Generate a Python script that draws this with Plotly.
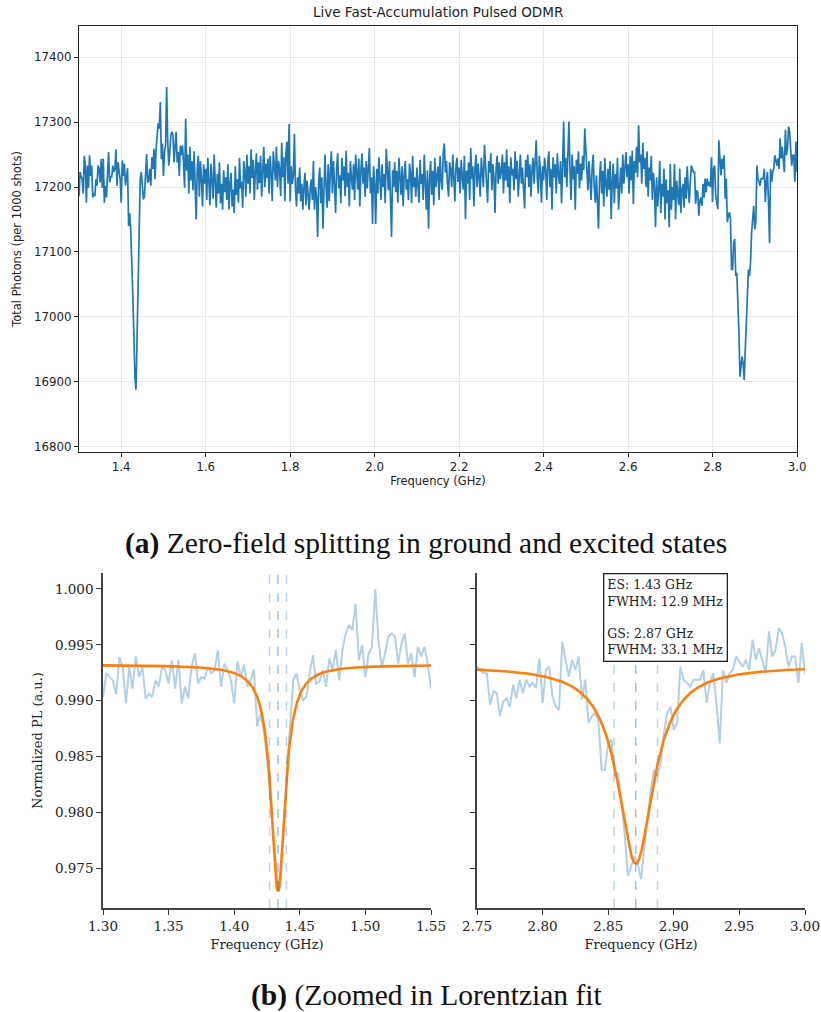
import numpy as np
import plotly.graph_objects as go

# ---------------------------------------------------------------------------
# Sweep grid: 1.30 GHz -> 3.00 GHz in 2.5 MHz steps
# ---------------------------------------------------------------------------
FREQ_START_GHZ = 1.30
FREQ_STEP_GHZ = 0.0025

# Total photon counts (per 1000 shots), excited-state region 1.3000-1.5500 GHz
counts_es = [
    17186, 17223, 17217, 17212, 17190, 17248, 17233, 17176, 17233, 17199,
    17249, 17217, 17233, 17184, 17191, 17186, 17212, 17202, 17233, 17228,
    17207, 17243, 17199, 17244, 17176, 17202, 17184, 17233, 17254, 17207,
    17217, 17215, 17233, 17223, 17228, 17258, 17202, 17238, 17228, 17212,
    17176, 17241, 17217, 17236, 17202, 17212, 17229, 17140, 17160, 17134,
    17093, 17031, 16969, 16906, 16888, 16979, 17062, 17140, 17212, 17223,
    17197, 17181, 17186, 17223, 17251, 17207, 17210, 17228, 17202, 17246,
    17228, 17259, 17212, 17259, 17285, 17298, 17290, 17331, 17243, 17267,
    17217, 17254, 17264, 17354, 17272, 17233, 17254, 17280, 17285, 17280,
    17238, 17269, 17285, 17238, 17254, 17217, 17264, 17249, 17264, 17238,
    17199,
]

# Total photon counts, 1.5525-2.7475 GHz
counts_mid = [
    17305, 17225, 17250, 17190, 17262, 17210, 17240, 17195, 17255,
    17205, 17150, 17230, 17248, 17185, 17240, 17212, 17170, 17235, 17205,
    17228, 17180, 17245, 17196, 17172, 17236, 17210, 17182, 17250, 17195,
    17168, 17220, 17190, 17238, 17175, 17205, 17165, 17226, 17192, 17215,
    17180, 17235, 17165, 17205, 17222, 17170, 17196, 17160, 17232, 17188,
    17212, 17176, 17245, 17198, 17208, 17168, 17240, 17226, 17185, 17250,
    17205, 17232, 17190, 17258, 17214, 17242, 17180, 17225, 17252, 17196,
    17238, 17206, 17248, 17185, 17230, 17262, 17200, 17236, 17214, 17244,
    17190, 17248, 17222, 17178, 17255, 17232, 17210, 17262, 17200, 17240,
    17228, 17186, 17268, 17215, 17246, 17178, 17252, 17270, 17205, 17297,
    17178, 17232, 17205, 17218, 17282, 17198, 17170, 17215, 17190, 17230,
    17178, 17205, 17165, 17200, 17222, 17172, 17210, 17188, 17165, 17198,
    17212, 17180, 17240, 17165, 17200, 17185, 17123, 17210, 17230, 17175,
    17215, 17136, 17190, 17250, 17200, 17168, 17235, 17178, 17222, 17255,
    17190, 17240, 17205, 17160, 17228, 17252, 17198, 17218, 17175, 17245,
    17210, 17232, 17186, 17256, 17200, 17222, 17170, 17240, 17215, 17196,
    17235, 17180, 17250, 17212, 17196, 17244, 17170, 17226, 17252, 17205,
    17230, 17185, 17240, 17198, 17222, 17260, 17190, 17215, 17143, 17232,
    17205, 17143, 17228, 17190, 17246, 17210, 17180, 17235, 17200, 17220,
    17175, 17259, 17212, 17195, 17240, 17185, 17123, 17226, 17200, 17238,
    17192, 17225, 17176, 17245, 17205, 17188, 17232, 17170, 17218, 17240,
    17196, 17212, 17180, 17236, 17222, 17175, 17248, 17200, 17215, 17185,
    17230, 17198, 17176, 17242, 17205, 17220, 17180, 17250, 17195, 17165,
    17226, 17136, 17210, 17240, 17188, 17225, 17172, 17245, 17200, 17218,
    17232, 17180, 17248, 17210, 17196, 17255, 17267, 17222, 17240, 17205,
    17185, 17238, 17226, 17200, 17250, 17215, 17178, 17232, 17245, 17208,
    17230, 17190, 17242, 17215, 17196, 17248, 17151, 17225, 17205, 17238,
    17180, 17260, 17212, 17232, 17170, 17226, 17250, 17200, 17236, 17215,
    17185, 17245, 17220, 17200, 17265, 17230, 17210, 17176, 17240, 17222,
    17252, 17195, 17235, 17215, 17160, 17228, 17248, 17205, 17238, 17212,
    17225, 17250, 17190, 17238, 17210, 17258, 17200, 17232, 17175, 17246,
    17218, 17228, 17195, 17255, 17212, 17240, 17185, 17226, 17250, 17205,
    17230, 17196, 17167, 17242, 17215, 17250, 17200, 17235, 17185, 17226,
    17245, 17205, 17238, 17272, 17214, 17190, 17248, 17222, 17176, 17232,
    17210, 17245, 17225, 17180, 17238, 17255, 17200, 17228, 17165, 17246,
    17215, 17235, 17190, 17252, 17220, 17205, 17240, 17175, 17230, 17301,
    17215, 17245, 17200, 17238, 17301, 17225, 17180, 17250, 17212, 17232,
    17165, 17242, 17220, 17255, 17198, 17236, 17210, 17248, 17226, 17290,
    17262, 17225, 17195, 17240, 17205, 17180, 17230, 17250, 17200, 17176,
    17218, 17160, 17136, 17215, 17240, 17190, 17225, 17170, 17245, 17205,
    17185, 17228, 17196, 17240, 17151, 17210, 17236, 17175, 17220, 17198,
    17245, 17165, 17212, 17230, 17190, 17250, 17205, 17225, 17254, 17215,
    17235, 17190, 17248, 17210, 17256, 17174, 17240, 17222, 17262, 17215,
    17295, 17238, 17250, 17205, 17268, 17228, 17245, 17200, 17255, 17185,
    17230, 17210, 17248, 17180, 17222, 17200, 17138, 17215, 17170, 17196,
    17240, 17160, 17205, 17185, 17228, 17150, 17212, 17175, 17195, 17138,
    17236, 17165, 17200, 17180, 17236, 17150, 17210, 17190, 17172, 17228,
    17160, 17195, 17205, 17168, 17215, 17182, 17232, 17198, 17175, 17210,
]

# Total photon counts, ground-state region 2.7500-3.0000 GHz
counts_gs = [
    17233, 17228, 17223, 17223, 17174, 17195, 17192, 17156, 17179, 17184,
    17171, 17205, 17184, 17213, 17192, 17213, 17202, 17208, 17200, 17246,
    17177, 17228, 17233, 17187, 17171, 17166, 17272, 17244, 17218, 17244,
    17228, 17249, 17182, 17213, 17146, 17156, 17161, 17151, 17073, 17073,
    17114, 17120, 17063, 17068, 17027, 16975, 16908, 16923, 16939, 16928,
    16903, 16949, 17001, 17042, 17073, 17063, 17083, 17130, 17161, 17171,
    17135, 17146, 17233, 17213, 17208, 17202, 17213, 17213, 17213, 17228,
    17177, 17208, 17223, 17177, 17114, 17228, 17208, 17223, 17228, 17249,
    17241, 17233, 17244, 17228, 17275, 17244, 17262, 17244, 17223, 17288,
    17249, 17259, 17293, 17285, 17264, 17233, 17249, 17249, 17208, 17270,
    17223,
]

# Lorentzian fit results: [excited state, ground state]
fit_labels = ["ES", "GS"]
fit_center_ghz = [1.4334, 2.8710]
fit_fwhm_mhz = [12.9, 33.1]
fit_depth = [0.0203, 0.0177]
fit_baseline = [0.9932, 0.9931]

zoom_ranges = [(1.30, 1.55), (2.75, 3.00)]

# ---------------------------------------------------------------------------
photons = np.array(counts_es + counts_mid + counts_gs, dtype=float)
freq = FREQ_START_GHZ + FREQ_STEP_GHZ * np.arange(len(photons))
norm_pl = photons / photons.max()

BLUE = "#1f77b4"
ORANGE = "#ff7f0e"
SANS = "DejaVu Sans"
SERIF = "DejaVu Serif"
CAPTION = "Liberation Serif"

W, H = 821, 1012


def xdom(a, b):
    return [a / W, b / W]


def ydom(top, bottom):
    return [1 - bottom / H, 1 - top / H]


def lorentzian(f, f0, fwhm_ghz, depth, base):
    hw = fwhm_ghz / 2.0
    return base - depth / (1.0 + ((f - f0) / hw) ** 2)


fig = go.Figure()

# Top: full sweep
fig.add_trace(go.Scatter(
    x=freq, y=photons, mode="lines",
    line=dict(color=BLUE, width=1.7),
    xaxis="x", yaxis="y", showlegend=False, hoverinfo="skip",
))

# Bottom: zoomed data with Lorentzian fits
axis_ids = [("x2", "y2"), ("x3", "y3")]
for k, (lo, hi) in enumerate(zoom_ranges):
    xa, ya = axis_ids[k]
    sel = (freq >= lo - 1e-9) & (freq <= hi + 1e-9)
    fig.add_trace(go.Scatter(
        x=freq[sel], y=norm_pl[sel], mode="lines",
        line=dict(color="rgba(31,119,180,0.35)", width=2),
        xaxis=xa, yaxis=ya, showlegend=False, hoverinfo="skip",
    ))
    fgrid = np.linspace(lo, hi, 600)
    fwhm_ghz = fit_fwhm_mhz[k] / 1000.0
    fig.add_trace(go.Scatter(
        x=fgrid,
        y=lorentzian(fgrid, fit_center_ghz[k], fwhm_ghz, fit_depth[k], fit_baseline[k]),
        mode="lines", line=dict(color=ORANGE, width=2.6),
        xaxis=xa, yaxis=ya, showlegend=False, hoverinfo="skip",
    ))
    # centre and half-maximum markers
    for off, alpha in [(-0.5, 0.3), (0.0, 0.45), (0.5, 0.3)]:
        xv = fit_center_ghz[k] + off * fwhm_ghz
        fig.add_shape(
            type="line", xref=xa, yref=f"{ya} domain",
            x0=xv, x1=xv, y0=0, y1=1,
            line=dict(color=f"rgba(31,119,180,{alpha})", width=1.5, dash="dash"),
            layer="above",
        )

top_x = xdom(79, 797)
top_y = ydom(26, 452)
bl_x = xdom(103, 431)
br_x = xdom(477, 805)
bot_y = ydom(573, 908)

tick_font_top = dict(family=SANS, size=11.8, color="#222")
tick_font_bot = dict(family=SERIF, size=13.5, color="#222")

fig.update_layout(
    template="none",
    width=W, height=H,
    margin=dict(l=0, r=0, t=0, b=0, autoexpand=False),
    paper_bgcolor="white", plot_bgcolor="white",
    xaxis=dict(
        domain=top_x, anchor="y", range=[1.3, 3.0], automargin=False,
        tickvals=[1.4, 1.6, 1.8, 2.0, 2.2, 2.4, 2.6, 2.8, 3.0],
        tickformat=".1f", ticks="outside", ticklen=4, tickcolor="#222",
        showgrid=True, gridcolor="#e8e8e8", gridwidth=1,
        showline=True, mirror=True, linecolor="#222", linewidth=1.2,
        zeroline=False, tickfont=tick_font_top,
        title=dict(text="Frequency (GHz)", font=dict(family=SANS, size=11.5, color="#222"), standoff=3),
    ),
    yaxis=dict(
        domain=top_y, anchor="x", range=[16792, 17448], automargin=False,
        tickvals=[16800, 16900, 17000, 17100, 17200, 17300, 17400],
        tickformat="d", ticks="outside", ticklen=4, tickcolor="#222",
        showgrid=True, gridcolor="#e8e8e8", gridwidth=1,
        showline=True, mirror=True, linecolor="#222", linewidth=1.2,
        zeroline=False, tickfont=tick_font_top,
        title=dict(text="Total Photons (per 1000 shots)", font=dict(family=SANS, size=11.5, color="#222"), standoff=9),
    ),
    xaxis2=dict(
        domain=bl_x, anchor="y2", range=[1.30, 1.55], automargin=False,
        tickvals=[1.30, 1.35, 1.40, 1.45, 1.50, 1.55], tickformat=".2f",
        ticks="outside", ticklen=5, tickcolor="#333", showgrid=False,
        showline=True, linecolor="#444", linewidth=1.5, zeroline=False,
        tickfont=tick_font_bot,
        title=dict(text="Frequency (GHz)", font=dict(family=SERIF, size=13, color="#222"), standoff=7),
    ),
    yaxis2=dict(
        domain=bot_y, anchor="x2", range=[0.97142, 1.00143], automargin=False,
        tickvals=[0.975, 0.980, 0.985, 0.990, 0.995, 1.000], tickformat=".3f",
        ticks="outside", ticklen=5, tickcolor="#333", showgrid=False,
        showline=True, linecolor="#444", linewidth=1.5, zeroline=False,
        tickfont=tick_font_bot,
        title=dict(text="Normalized PL (a.u.)", font=dict(family=SERIF, size=13, color="#222"), standoff=9),
    ),
    xaxis3=dict(
        domain=br_x, anchor="y3", range=[2.75, 3.00], automargin=False,
        tickvals=[2.75, 2.80, 2.85, 2.90, 2.95, 3.00], tickformat=".2f",
        ticks="outside", ticklen=5, tickcolor="#333", showgrid=False,
        showline=True, linecolor="#444", linewidth=1.5, zeroline=False,
        tickfont=tick_font_bot,
        title=dict(text="Frequency (GHz)", font=dict(family=SERIF, size=13, color="#222"), standoff=7),
    ),
    yaxis3=dict(
        domain=bot_y, anchor="x3", range=[0.97142, 1.00143], automargin=False,
        tickvals=[0.975, 0.980, 0.985, 0.990, 0.995, 1.000],
        showticklabels=False,
        ticks="outside", ticklen=5, tickcolor="#333", showgrid=False,
        showline=True, linecolor="#444", linewidth=1.5, zeroline=False,
    ),
)

fit_text = "<br><br>".join(
    f"{lab}: {c:.2f} GHz<br>FWHM: {w:.1f} MHz"
    for lab, c, w in zip(fit_labels, fit_center_ghz, fit_fwhm_mhz)
)

annotations = [
    dict(text="Live Fast-Accumulation Pulsed ODMR", xref="paper", yref="paper",
         x=(top_x[0] + top_x[1]) / 2, y=1 - 12 / H, xanchor="center", yanchor="middle",
         showarrow=False, font=dict(family=SANS, size=13.5, color="#222")),
    dict(text="<b>(a)</b> Zero-field splitting in ground and excited states",
         xref="paper", yref="paper", x=426 / W, y=1 - 543 / H,
         xanchor="center", yanchor="middle", showarrow=False,
         font=dict(family=CAPTION, size=29.5, color="#111")),
    dict(text="<b>(b)</b> (Zoomed in Lorentzian fit",
         xref="paper", yref="paper", x=426 / W, y=1 - 995 / H,
         xanchor="center", yanchor="middle", showarrow=False,
         font=dict(family=CAPTION, size=29.5, color="#111")),
    dict(text=fit_text, xref="paper", yref="paper",
         x=603 / W, y=1 - 573 / H, xanchor="left", yanchor="top",
         align="left", showarrow=False, bgcolor="white",
         bordercolor="#222", borderwidth=1.3, borderpad=3,
         font=dict(family=SERIF, size=12.5, color="#222")),
]
fig.update_layout(annotations=annotations)

fig.write_html("out.html")
